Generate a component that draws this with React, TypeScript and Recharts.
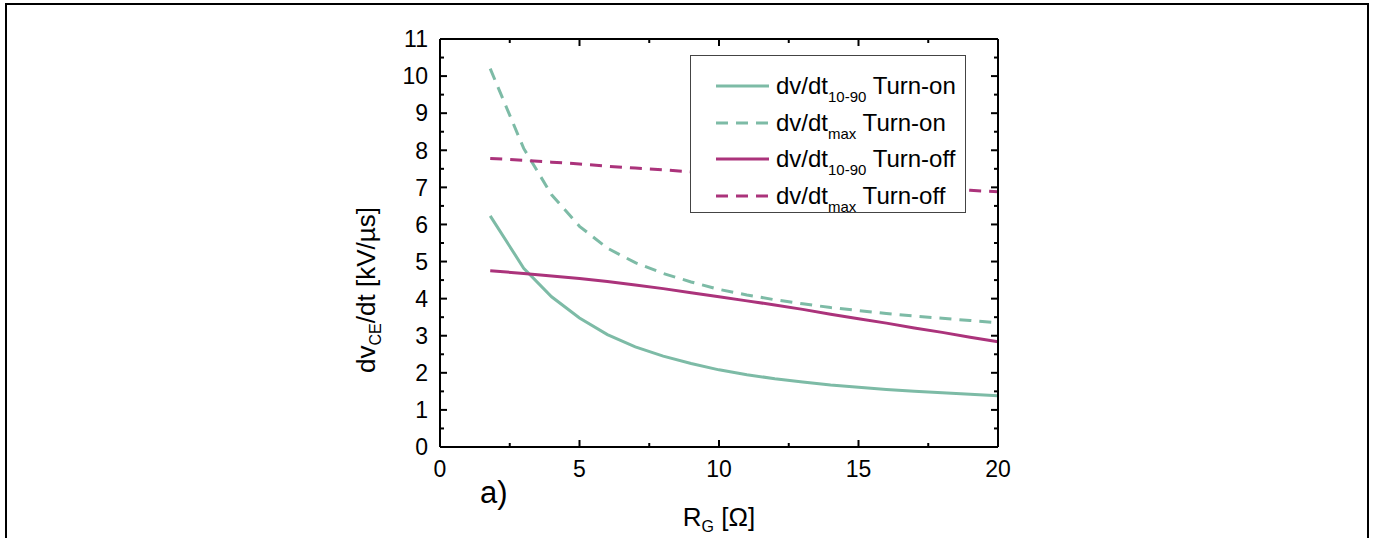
import React from "react";
import { LineChart, Line, XAxis, YAxis, Legend, Label } from "recharts";

// gate resistance R_G [Ω]
const rg = [1.8, 3, 4, 5, 6, 7, 8, 9, 10, 11, 12, 13, 14, 15, 16, 17, 18, 19, 20];
// dv/dt [kV/µs]
const onSlope = [6.23, 4.82, 4.05, 3.48, 3.03, 2.7, 2.45, 2.25, 2.08, 1.95, 1.84, 1.75, 1.67, 1.61, 1.55, 1.5, 1.46, 1.42, 1.38];
const onMax = [10.2, 8.05, 6.8, 5.95, 5.36, 4.97, 4.68, 4.45, 4.25, 4.1, 3.97, 3.86, 3.76, 3.68, 3.6, 3.53, 3.47, 3.41, 3.35];
const offSlope = [4.75, 4.68, 4.61, 4.54, 4.46, 4.37, 4.27, 4.16, 4.05, 3.94, 3.83, 3.71, 3.58, 3.46, 3.34, 3.21, 3.09, 2.96, 2.84];
const offMax = [7.78, 7.73, 7.68, 7.63, 7.57, 7.52, 7.47, 7.42, 7.37, 7.32, 7.27, 7.22, 7.17, 7.12, 7.07, 7.02, 6.97, 6.92, 6.88];

// major ticks get labels, minor ones only a short mark
const xTicks = [0, 2.5, 5, 7.5, 10, 12.5, 15, 17.5, 20];
const xLabels = [0, 5, 10, 15, 20];
const yTicks = [0, 0.5, 1, 1.5, 2, 2.5, 3, 3.5, 4, 4.5, 5, 5.5, 6, 6.5, 7, 7.5, 8, 8.5, 9, 9.5, 10, 10.5, 11];
const yLabels = [0, 1, 2, 3, 4, 5, 6, 7, 8, 9, 10, 11];

const GREEN = "#7dbba6";
const MAGENTA = "#ab337b";
const FONT = "'Liberation Sans', Arial, sans-serif";
const GAP = 12;
const MAJOR = 7;
const MINOR = 4;

const data = rg.map((r, i) => ({
  rg: r,
  onSlope: onSlope[i],
  onMax: onMax[i],
  offSlope: offSlope[i],
  offMax: offMax[i],
}));

const legendRows = [
  { sub: "10-90", text: " Turn-on", color: GREEN, dash: false },
  { sub: "max", text: " Turn-on", color: GREEN, dash: true },
  { sub: "10-90", text: " Turn-off", color: MAGENTA, dash: false },
  { sub: "max", text: " Turn-off", color: MAGENTA, dash: true },
];

function LegendBox() {
  return (
    <div
      style={{
        boxSizing: "border-box",
        width: 276,
        height: 158,
        border: "1px solid #444",
        background: "#fff",
        paddingTop: 12,
        fontFamily: FONT,
        fontSize: 24,
        color: "#000",
      }}
    >
      {legendRows.map((r, i) => (
        <div key={i} style={{ height: 36.6, display: "flex", alignItems: "center", whiteSpace: "nowrap" }}>
          <svg width={85} height={8} style={{ flex: "none" }}>
            <line
              x1={25}
              x2={78}
              y1={4}
              y2={4}
              stroke={r.color}
              strokeWidth={3}
              strokeDasharray={r.dash ? "12 8" : undefined}
            />
          </svg>
          <span>
            dv/dt<span style={{ fontSize: 15, position: "relative", top: 8 }}>{r.sub}</span>
            {r.text}
          </span>
        </div>
      ))}
    </div>
  );
}

const axisLine = { stroke: "#000", strokeWidth: 2 };

function BottomTick({ x, y, payload }: any) {
  const v = payload.value;
  const major = xLabels.includes(v);
  const ay = y - GAP;
  return (
    <g>
      <line x1={x} x2={x} y1={ay} y2={ay - (major ? MAJOR : MINOR)} stroke="#000" strokeWidth={2} />
      {major && (
        <text x={x} y={y} dy="0.8em" textAnchor="middle" fontFamily={FONT} fontSize={23} fill="#000">
          {v}
        </text>
      )}
    </g>
  );
}

function LeftTick({ x, y, payload }: any) {
  const v = payload.value;
  const major = yLabels.includes(v);
  const ax = x + GAP;
  return (
    <g>
      <line x1={ax} x2={ax + (major ? MAJOR : MINOR)} y1={y} y2={y} stroke="#000" strokeWidth={2} />
      {major && (
        <text x={x} y={y} dy="0.36em" textAnchor="end" fontFamily={FONT} fontSize={23} fill="#000">
          {v}
        </text>
      )}
    </g>
  );
}

function TopTick({ x, y, payload }: any) {
  const major = xLabels.includes(payload.value);
  return <line x1={x} x2={x} y1={y} y2={y + (major ? MAJOR : MINOR)} stroke="#000" strokeWidth={2} />;
}

function RightTick({ x, y, payload }: any) {
  const major = yLabels.includes(payload.value);
  return <line x1={x} x2={x - (major ? MAJOR : MINOR)} y1={y} y2={y} stroke="#000" strokeWidth={2} />;
}

export default function App() {
  return (
    <div style={{ position: "absolute", left: 0, top: 0, width: 1373, height: 538, background: "#fff" }}>
      <div
        style={{
          position: "absolute",
          left: 5,
          top: 3,
          width: 1364,
          height: 545,
          boxSizing: "border-box",
          border: "2px solid #000",
        }}
      />
      <LineChart
        width={1373}
        height={538}
        data={data}
        margin={{ top: 29, right: 365, bottom: 61, left: 380 }}
        style={{ position: "absolute", left: 0, top: 0 }}
      >
        <XAxis
          xAxisId="x"
          dataKey="rg"
          type="number"
          domain={[0, 20]}
          ticks={xTicks}
          interval={0}
          height={30}
          tickSize={0}
          tickMargin={GAP}
          tickLine={false}
          axisLine={axisLine}
          tick={<BottomTick />}
        >
          <Label
            content={({ viewBox }: any) => (
              <text
                x={viewBox.x + viewBox.width / 2}
                y={526}
                textAnchor="middle"
                fontFamily={FONT}
                fontSize={26}
                fill="#000"
              >
                R<tspan fontSize={16} dy={6}>G</tspan>
                <tspan dy={-6}> [Ω]</tspan>
              </text>
            )}
          />
          <Label
            content={({ viewBox }: any) => (
              <text x={viewBox.x + 40} y={503} fontFamily={FONT} fontSize={31} fill="#000">
                a)
              </text>
            )}
          />
        </XAxis>
        <XAxis
          xAxisId="xt"
          orientation="top"
          dataKey="rg"
          type="number"
          domain={[0, 20]}
          ticks={xTicks}
          interval={0}
          height={10}
          tickSize={0}
          tickMargin={0}
          tickLine={false}
          axisLine={axisLine}
          tick={<TopTick />}
        />

        <YAxis
          yAxisId="y"
          type="number"
          domain={[0, 11]}
          ticks={yTicks}
          interval={0}
          width={60}
          tickSize={0}
          tickMargin={GAP}
          tickLine={false}
          axisLine={axisLine}
          tick={<LeftTick />}
        >
          <Label
            content={({ viewBox }: any) => {
              const cx = viewBox.x - 5;
              const cy = viewBox.y + viewBox.height / 2 + 47;
              return (
                <text
                  x={cx}
                  y={cy}
                  transform={`rotate(-90 ${cx} ${cy})`}
                  textAnchor="middle"
                  fontFamily={FONT}
                  fontSize={26}
                  fill="#000"
                >
                  dv<tspan fontSize={16} dy={6}>CE</tspan>
                  <tspan dy={-6}>/dt [kV/µs]</tspan>
                </text>
              );
            }}
          />
        </YAxis>
        <YAxis
          yAxisId="yr"
          orientation="right"
          type="number"
          domain={[0, 11]}
          ticks={yTicks}
          interval={0}
          width={10}
          tickSize={0}
          tickMargin={0}
          tickLine={false}
          axisLine={axisLine}
          tick={<RightTick />}
        />

        <Legend
          layout="vertical"
          align="center"
          verticalAlign="middle"
          wrapperStyle={{ left: 690, top: 55, width: 276, height: 158 }}
          content={() => <LegendBox />}
        />

        <Line xAxisId="x" yAxisId="y" type="linear" dataKey="onSlope" stroke={GREEN} strokeWidth={3} dot={false} isAnimationActive={false} />
        <Line xAxisId="x" yAxisId="y" type="linear" dataKey="onMax" stroke={GREEN} strokeWidth={3} strokeDasharray="12 8" dot={false} isAnimationActive={false} />
        <Line xAxisId="xt" yAxisId="yr" type="linear" dataKey="offSlope" stroke={MAGENTA} strokeWidth={3} dot={false} isAnimationActive={false} />
        <Line xAxisId="xt" yAxisId="yr" type="linear" dataKey="offMax" stroke={MAGENTA} strokeWidth={3} strokeDasharray="12 8" dot={false} isAnimationActive={false} />
      </LineChart>
    </div>
  );
}
